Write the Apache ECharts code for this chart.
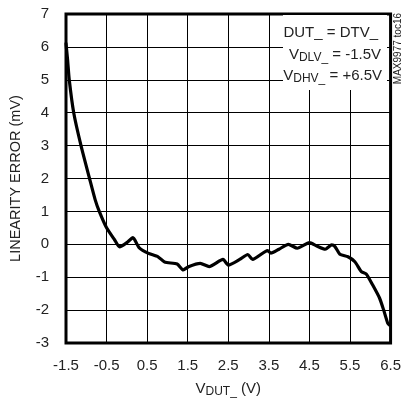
<!DOCTYPE html>
<html>
<head>
<meta charset="utf-8">
<script src="https://cdn.jsdelivr.net/npm/echarts@6/dist/echarts.min.js"></script>
<style>
html,body{margin:0;padding:0;background:#fff;}
#c{width:404px;height:405px;}
</style>
</head>
<body>
<div id="c"></div>
<script>
// Data
const vDut = [-1.5, -1.46, -1.42, -1.31, -1.13, -0.92, -0.78, -0.68, -0.5, -0.3, -0.18, 0.0, 0.15, 0.3, 0.52, 0.77, 0.93, 1.24, 1.39, 1.52, 1.81, 2.03, 2.37, 2.5, 2.78, 2.98, 3.10, 3.47, 3.55, 3.75, 3.98, 4.20, 4.50, 4.68, 4.89, 5.05, 5.13, 5.25, 5.45, 5.62, 5.78, 5.90, 6.06, 6.23, 6.33, 6.43, 6.47];
const linErr = [6.1, 5.6, 5.0, 4.0, 3.0, 2.0, 1.35, 1.0, 0.5, 0.13, -0.08, 0.05, 0.2, -0.1, -0.27, -0.38, -0.54, -0.6, -0.78, -0.68, -0.58, -0.68, -0.46, -0.63, -0.46, -0.31, -0.46, -0.19, -0.27, -0.15, 0.0, -0.12, 0.05, -0.05, -0.15, -0.02, -0.07, -0.3, -0.38, -0.53, -0.83, -0.9, -1.24, -1.64, -2.0, -2.4, -2.45];
const xTicks = ['-1.5', '-0.5', '0.5', '1.5', '2.5', '3.5', '4.5', '5.5', '6.5'];
const yTicks = ['-3', '-2', '-1', '0', '1', '2', '3', '4', '5', '6', '7'];
const noteLines = ['DUT_ = DTV_', 'V{s|DLV_} = -1.5V', 'V{s|DHV_} = +6.5V'];

const FONT = '"Liberation Sans",Arial,sans-serif';
const chart = echarts.init(document.getElementById('c'), null, {renderer: 'canvas'});
const pts = vDut.map((x, i) => [x, linErr[i]]);

chart.setOption({
  animation: false,
  backgroundColor: '#fff',
  grid: {left: 64, right: 11, top: 14, bottom: 62, show: true, borderColor: '#000', borderWidth: 3, backgroundColor: 'transparent'},
  xAxis: {
    type: 'value', min: -1.5, max: 6.5, interval: 1,
    axisLine: {show: false}, axisTick: {show: false},
    splitLine: {show: true, lineStyle: {color: '#000', width: 1}},
    axisLabel: {
      color: '#222', fontFamily: FONT, fontSize: 15, margin: 15,
      formatter: v => { const s = xTicks.find(t => Math.abs(parseFloat(t) - v) < 1e-6); return s === undefined ? '' : s; }
    },
    name: 'V{s|DUT_} (V)', nameLocation: 'middle', nameGap: 37,
    nameTextStyle: {color: '#222', fontFamily: FONT, fontSize: 15, rich: {s: {fontFamily: FONT, fontSize: 12, verticalAlign: 'bottom', padding: [6, 0, 0, 0], color: '#222'}}}
  },
  yAxis: {
    type: 'value', min: -3, max: 7, interval: 1,
    axisLine: {show: false}, axisTick: {show: false},
    splitLine: {show: true, lineStyle: {color: '#000', width: 1}},
    axisLabel: {
      color: '#222', fontFamily: FONT, fontSize: 15, margin: 17,
      formatter: v => { const s = yTicks.find(t => Math.abs(parseFloat(t) - v) < 1e-6); return s === undefined ? '' : s; }
    },
    name: 'LINEARITY ERROR (mV)', nameLocation: 'middle', nameGap: 43,
    nameTextStyle: {color: '#222', fontFamily: FONT, fontSize: 14.5}
  },
  series: [{
    type: 'line', data: pts, showSymbol: false, smooth: 0.2,
    lineStyle: {color: '#000', width: 3.2, join: 'round', cap: 'round'},
    z: 3
  }],
  graphic: [
    {type: 'rect', left: 283, top: 15, shape: {width: 104, height: 75}, style: {fill: '#fff'}, z: 10},
    {type: 'text', right: 26, top: 25, z: 11, style: {text: noteLines[0], font: '15px ' + FONT, fill: '#222', align: 'right'}},
    {type: 'text', right: 23, top: 47, z: 11, style: {text: noteLines[1], font: '15px ' + FONT, fill: '#222', align: 'right', rich: {s: {font: '12px ' + FONT, fill: '#222', padding: [6, 0, 0, 0]}}}},
    {type: 'text', right: 22, top: 68, z: 11, style: {text: noteLines[2], font: '15px ' + FONT, fill: '#222', align: 'right', rich: {s: {font: '12px ' + FONT, fill: '#222', padding: [6, 0, 0, 0]}}}},
    {type: 'text', x: 403, y: 13, rotation: Math.PI / 2, z: 11, style: {text: 'MAX9977 toc16', font: '10px ' + FONT, fill: '#222', align: 'right', verticalAlign: 'bottom'}}
  ]
});
</script>
</body>
</html>
